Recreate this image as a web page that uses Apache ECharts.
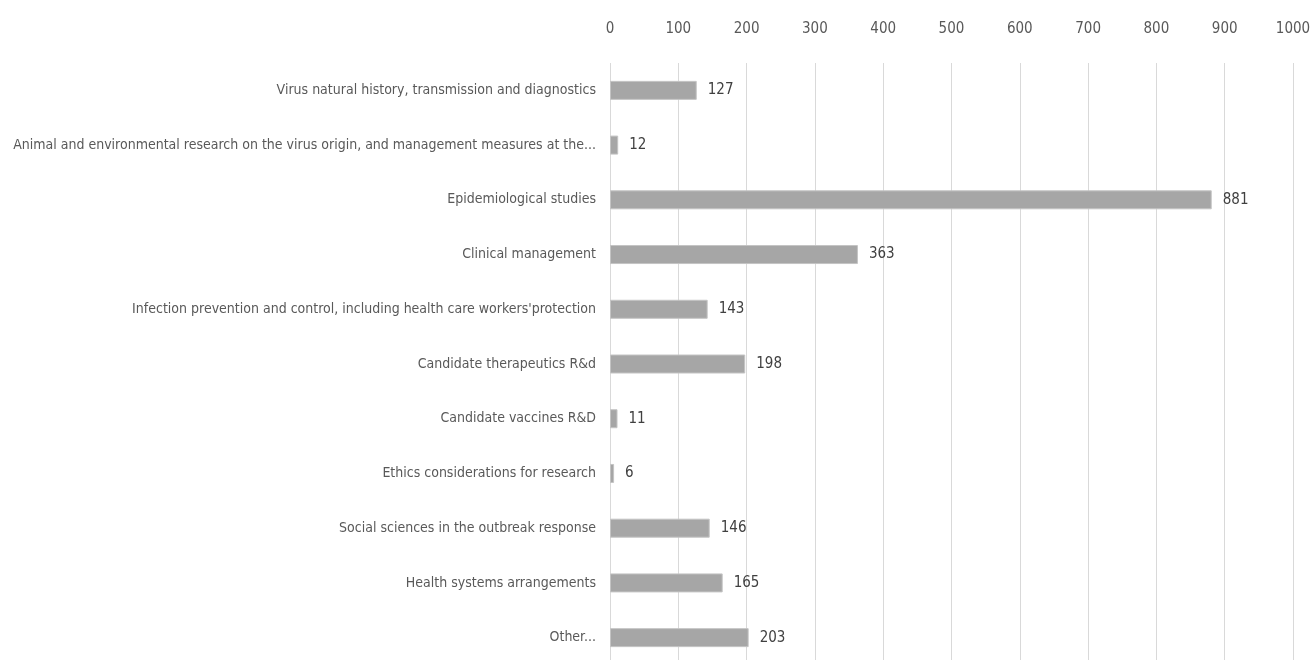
<!DOCTYPE html>
<html>
<head>
<meta charset="utf-8">
<script src="https://cdn.jsdelivr.net/npm/echarts@6/dist/echarts.min.js"></script>
<style>
html,body{margin:0;padding:0;background:#fff;}
#chart{width:1312px;height:660px;}
</style>
</head>
<body>
<div id="chart"></div>
<script>
const categories = [
  "Virus natural history, transmission and diagnostics",
  "Animal and environmental research on the virus origin, and management measures at the...",
  "Epidemiological studies",
  "Clinical management",
  "Infection prevention and control, including health care workers'protection",
  "Candidate therapeutics R&d",
  "Candidate vaccines R&D",
  "Ethics considerations for research",
  "Social sciences in the outbreak response",
  "Health systems arrangements",
  "Other..."
];
const values = [127, 12, 881, 363, 143, 198, 11, 6, 146, 165, 203];
const xTicks = [0, 100, 200, 300, 400, 500, 600, 700, 800, 900, 1000];

const FONT = "'Liberation Sans Narrow', 'DejaVu Sans Condensed', sans-serif";
const chart = echarts.init(document.getElementById('chart'));
chart.setOption({
  animation: false,
  backgroundColor: '#ffffff',
  grid: { left: 610, right: 19, top: 63, bottom: -5, outerBoundsMode: 'none', containLabel: false },
  xAxis: {
    type: 'value', position: 'top', min: xTicks[0], max: xTicks[xTicks.length - 1], interval: 100,
    axisLine: { show: false }, axisTick: { show: false },
    axisLabel: { color: '#595959', fontFamily: FONT, fontSize: 15, margin: 26, formatter: v => String(v) },
    splitLine: { show: true, lineStyle: { color: '#d9d9d9', width: 1 } }
  },
  yAxis: {
    type: 'category', inverse: true, data: categories,
    axisLine: { show: false }, axisTick: { show: false },
    axisLabel: { color: '#595959', fontFamily: FONT, fontSize: 14, margin: 14 }
  },
  series: [{
    type: 'bar', data: values, barWidth: 19,
    itemStyle: { color: '#a6a6a6', borderColor: '#c4c4c4', borderWidth: 1 },
    label: { show: true, position: 'right', distance: 11, color: '#404040', fontFamily: FONT, fontSize: 15 }
  }]
});
</script>
</body>
</html>
